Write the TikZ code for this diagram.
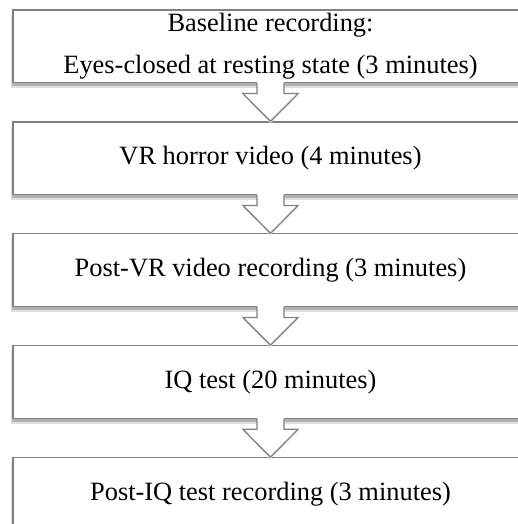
\documentclass[tikz,border=0pt]{standalone}
\usepackage{fontspec}
\setmainfont{Liberation Serif}
\usepackage{tikz}
\usetikzlibrary{positioning,calc,backgrounds}

% block arrow from the bottom of one box to the top of the next
\newcommand{\stagearrow}[2]{%
  \fill[stagearrowshadow] ($(#1.south)+(-13.5pt,-2pt)$) -- ($(#1.south)+(-13.5pt,-12.5pt)$)
     -- ($(#1.south)+(-27.5pt,-12.5pt)$) -- ($(#2.north)+(0pt,-2pt)$) -- ($(#1.south)+(27.5pt,-12.5pt)$)
     -- ($(#1.south)+(13.5pt,-12.5pt)$) -- ($(#1.south)+(13.5pt,-2pt)$) -- cycle;
  \fill[stagearrowfill] ($(#1.south)+(-13.5pt,1.2pt)$) -- ($(#1.south)+(-13.5pt,-10.5pt)$)
     -- ($(#1.south)+(-27.5pt,-10.5pt)$) -- (#2.north) -- ($(#1.south)+(27.5pt,-10.5pt)$)
     -- ($(#1.south)+(13.5pt,-10.5pt)$) -- ($(#1.south)+(13.5pt,1.2pt)$) -- cycle;
  \draw[stagearrowline] ($(#1.south)+(-13.5pt,0pt)$) -- ($(#1.south)+(-13.5pt,-10.5pt)$)
     -- ($(#1.south)+(-27.5pt,-10.5pt)$) -- (#2.north) -- ($(#1.south)+(27.5pt,-10.5pt)$)
     -- ($(#1.south)+(13.5pt,-10.5pt)$) -- ($(#1.south)+(13.5pt,0pt)$);
}

\begin{document}
\begin{tikzpicture}[node distance=38.2pt,line width=1.2pt,
                    every node/.style={font=\fontsize{26.4}{42}\selectfont}]
  \tikzstyle{stage}=[rectangle,draw=black!50,fill=white,align=center,
                     minimum width=515pt,minimum height=72.5pt,inner sep=0pt]
  \tikzstyle{stageshadow}=[fill=black!30]
  \tikzstyle{stageblur}=[fill=black!12]
  \tikzstyle{stagearrowshadow}=[fill=black!12]
  \tikzstyle{stagearrowfill}=[fill=white]
  \tikzstyle{stagearrowline}=[draw=black!50,line join=miter]

  \useasboundingbox (0pt,0pt) rectangle (517pt,-524pt);

  \node[stage] (base) at (270.5pt,-46.25pt) {Baseline recording:\\Eyes-closed at resting state (3 minutes)};
  \node[stage] (vr)      [below=of base]   {VR horror video (4 minutes)};
  \node[stage] (postvr)  [below=of vr]     {Post-VR video recording (3 minutes)};
  \node[stage] (iq)      [below=of postvr] {IQ test (20 minutes)};
  \node[stage] (postiq)  [below=of iq]     {Post-IQ test recording (3 minutes)};

  % soft shadows under the boxes
  \begin{scope}[on background layer]
    \foreach \n in {base,vr,postvr,iq,postiq} {
      \fill[stageblur] ($(\n.south west)+(-1pt,-5pt)$) rectangle ($(\n.north east)+(1pt,-5pt)$);
      \fill[stageshadow] ($(\n.south west)+(0pt,-2.8pt)$) rectangle ($(\n.north east)+(0pt,-2.8pt)$);
    }
  \end{scope}

  \stagearrow{base}{vr}
  \stagearrow{vr}{postvr}
  \stagearrow{postvr}{iq}
  \stagearrow{iq}{postiq}

\end{tikzpicture}
\end{document}
